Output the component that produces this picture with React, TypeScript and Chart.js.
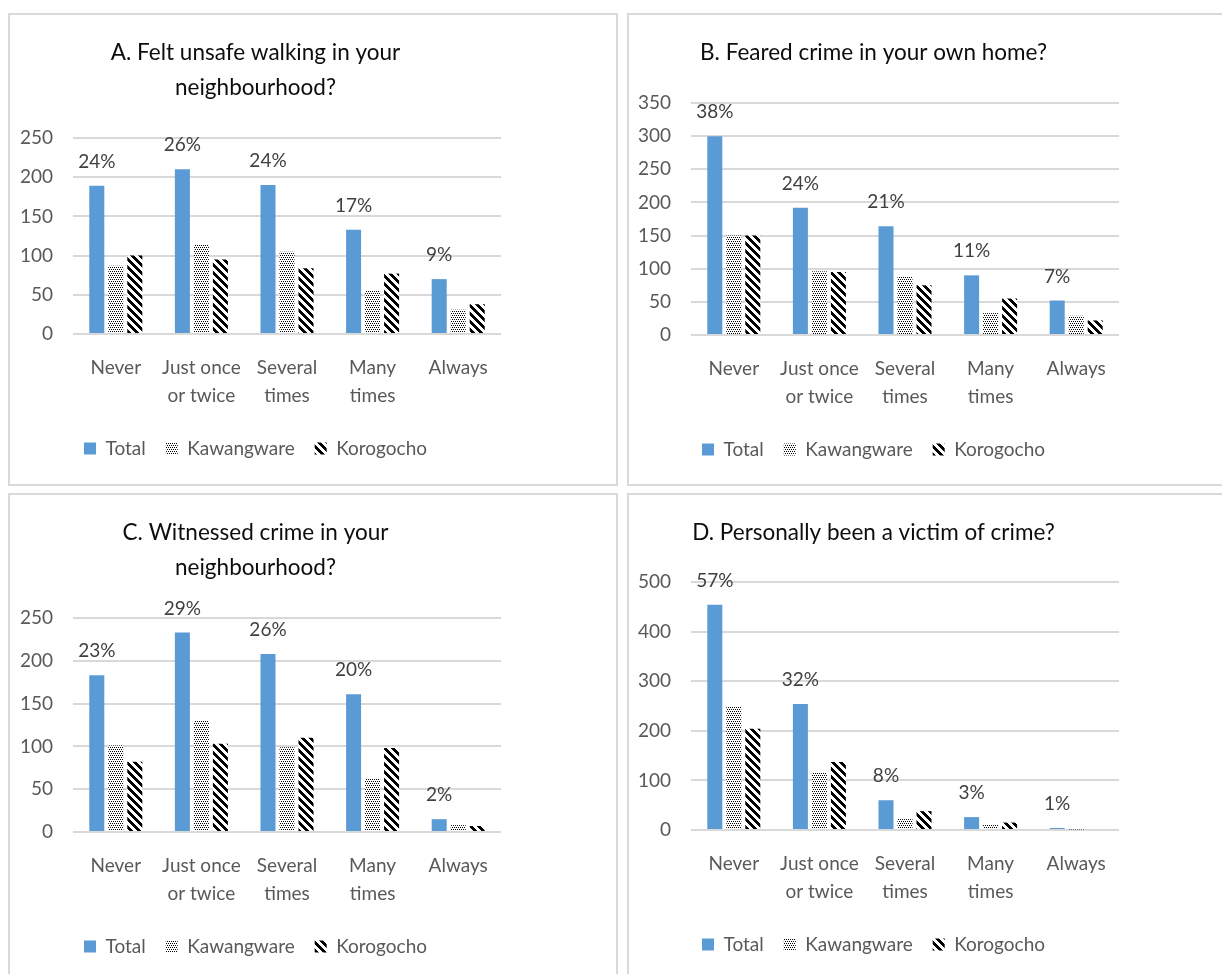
import React, { useEffect, useRef } from "react";
import { Chart, registerables } from "chart.js";

Chart.register(...registerables);

// ---------- data ----------
const categories: (string | string[])[] = [
  "Never",
  ["Just once", "or twice"],
  ["Several", "times"],
  ["Many", "times"],
  "Always",
];
const seriesNames = ["Total", "Kawangware", "Korogocho"];

const titleA = ["A. Felt unsafe walking in your", "neighbourhood?"];
const totalA = [189, 210, 190, 133, 70];
const kawA = [87, 114, 105, 55, 31];
const korA = [100, 95, 84, 77, 38];
const pctA = [24, 26, 24, 17, 9];

const titleB = ["B. Feared crime in your own home?"];
const totalB = [300, 192, 164, 90, 52];
const kawB = [150, 96, 89, 33, 29];
const korB = [150, 95, 75, 55, 22];
const pctB = [38, 24, 21, 11, 7];

const titleC = ["C. Witnessed crime in your", "neighbourhood?"];
const totalC = [183, 233, 208, 161, 15];
const kawC = [101, 130, 99, 63, 8];
const korC = [82, 103, 110, 98, 7];
const pctC = [23, 29, 26, 20, 2];

const titleD = ["D. Personally been a victim of crime?"];
const totalD = [454, 254, 60, 26, 4];
const kawD = [249, 117, 22, 10, 1];
const korD = [204, 137, 38, 15, 2];
const pctD = [57, 32, 8, 3, 1];

// ---------- styling ----------
const FONT = "Lato, 'Open Sans', sans-serif";
const GREY = "#595959";
const BLUE = "#5B9BD5";

function makePattern(kind: "dots" | "stripes"): CanvasPattern {
  const size = kind === "dots" ? 4 : 8;
  const c = document.createElement("canvas");
  c.width = size;
  c.height = size;
  const g = c.getContext("2d")!;
  g.fillStyle = "#ffffff";
  g.fillRect(0, 0, size, size);
  g.fillStyle = "#000000";
  if (kind === "dots") {
    g.fillRect(0, 0, 1, 1);
    g.fillRect(2, 0, 1, 1);
    g.fillRect(1, 2, 1, 1);
    g.fillRect(3, 2, 1, 1);
  } else {
    for (let y = 0; y < size; y++) {
      for (let k = 0; k < 4; k++) {
        g.fillRect((y + k) % size, y, 1, 1);
      }
    }
  }
  return g.createPattern(c, "repeat")!;
}

type PanelProps = {
  title: string[];
  total: number[];
  kaw: number[];
  kor: number[];
  pct: number[];
  yMax: number;
  yStep: number;
  left: number;
  canvasTop: number;
  plotTop: number;
  plotBottom: number;
};

const CANVAS_W = 518;

function ChartPanel(p: PanelProps) {
  const ref = useRef<HTMLCanvasElement | null>(null);
  const height = p.plotBottom - p.canvasTop + 135;

  useEffect(() => {
    if (!ref.current) return;
    const titleSize = 22.5;
    const titleLH = 35;
    const titlePadTop = 20.5;
    const titlePadBottom = p.plotTop - p.canvasTop - titlePadTop - p.title.length * titleLH;

    const pctPlugin = {
      id: "pctLabels",
      afterDatasetsDraw(chart: any) {
        const ctx = chart.ctx;
        const meta = chart.getDatasetMeta(0);
        ctx.save();
        ctx.font = `19px ${FONT}`;
        ctx.fillStyle = "#404040";
        ctx.textAlign = "center";
        ctx.textBaseline = "middle";
        meta.data.forEach((el: any, i: number) => {
          ctx.fillText(`${p.pct[i]}%`, el.x, el.y - 24);
        });
        ctx.restore();
      },
    };

    const chart = new Chart(ref.current, {
      type: "bar",
      data: {
        labels: categories as any,
        datasets: [
          { label: seriesNames[0], data: p.total, backgroundColor: BLUE, borderWidth: 0 },
          { label: seriesNames[1], data: p.kaw, backgroundColor: makePattern("dots") as any, borderWidth: 0 },
          { label: seriesNames[2], data: p.kor, backgroundColor: makePattern("stripes") as any, borderWidth: 0 },
        ],
      },
      options: {
        responsive: false,
        maintainAspectRatio: false,
        animation: false,
        layout: { padding: { left: 0, right: 27, top: 0, bottom: 0 } },
        datasets: { bar: { categoryPercentage: 0.666, barPercentage: 0.79 } },
        plugins: {
          title: {
            display: true,
            text: p.title,
            color: "#0d0d0d",
            font: { family: FONT, size: titleSize, weight: "normal", lineHeight: titleLH / titleSize },
            padding: { top: titlePadTop, bottom: titlePadBottom },
          },
          legend: {
            position: "bottom",
            labels: {
              boxWidth: 12,
              boxHeight: 12,
              padding: 20,
              color: GREY,
              font: { family: FONT, size: 19 },
            },
          },
          tooltip: { enabled: false },
        },
        scales: {
          x: {
            grid: { display: false, drawTicks: false },
            border: { display: false },
            ticks: {
              color: GREY,
              font: { family: FONT, size: 19, lineHeight: 28 / 19 },
              padding: 20,
              maxRotation: 0,
              autoSkip: false,
            },
            afterFit: (s: any) => {
              s.height -= 11;
            },
          },
          y: {
            min: 0,
            max: p.yMax,
            ticks: {
              stepSize: p.yStep,
              color: GREY,
              font: { family: FONT, size: 19 },
              padding: 20,
            },
            grid: { color: "#d9d9d9", lineWidth: 2, drawTicks: false },
            border: { display: false },
            afterFit: (s: any) => {
              s.width = 63;
            },
          },
        },
      } as any,
      plugins: [pctPlugin],
    });
    return () => chart.destroy();
  }, []);

  return (
    <canvas
      ref={ref}
      width={CANVAS_W}
      height={height}
      style={{ position: "absolute", left: p.left, top: p.canvasTop, width: CANVAS_W, height }}
    />
  );
}

function Box({ left, top, width, height }: { left: number; top: number; width: number; height: number }) {
  return (
    <div
      style={{
        position: "absolute",
        left,
        top,
        width,
        height,
        border: "2px solid #d9d9d9",
        boxSizing: "border-box",
      }}
    />
  );
}

export default function App() {
  return (
    <div
      style={{
        position: "absolute",
        left: 0,
        top: 0,
        width: 1222,
        height: 974,
        overflow: "hidden",
        background: "#ffffff",
      }}
    >
      <Box left={8} top={13} width={610} height={473} />
      <Box left={627} top={13} width={610} height={473} />
      <Box left={8} top={493} width={610} height={500} />
      <Box left={627} top={493} width={610} height={500} />
      <ChartPanel title={titleA} total={totalA} kaw={kawA} kor={korA} pct={pctA} yMax={250} yStep={50}
        left={10} canvasTop={15} plotTop={138} plotBottom={333} />
      <ChartPanel title={titleB} total={totalB} kaw={kawB} kor={korB} pct={pctB} yMax={350} yStep={50}
        left={628} canvasTop={15} plotTop={103} plotBottom={334} />
      <ChartPanel title={titleC} total={totalC} kaw={kawC} kor={korC} pct={pctC} yMax={250} yStep={50}
        left={10} canvasTop={495} plotTop={618} plotBottom={831} />
      <ChartPanel title={titleD} total={totalD} kaw={kawD} kor={korD} pct={pctD} yMax={500} yStep={100}
        left={628} canvasTop={495} plotTop={582} plotBottom={829} />
    </div>
  );
}
